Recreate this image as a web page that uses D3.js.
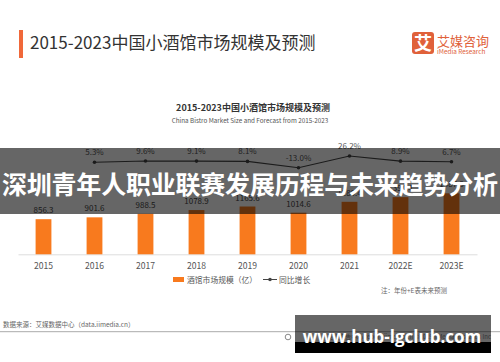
<!DOCTYPE html>
<html>
<head>
<meta charset="utf-8">
<script src="https://cdn.jsdelivr.net/npm/d3@7"></script>
<style>
    html, body { margin: 0; padding: 0; background: #fff; }
    svg { display: block; font-family: "Noto Sans CJK SC", "Noto Sans", sans-serif; }
</style>
</head>
<body>
<script>
"use strict";

const years = ["2015", "2016", "2017", "2018", "2019", "2020", "2021", "2022E", "2023E"];
const marketSize = [856.3, 901.6, 988.5, 1078.9, 1165.6, 1014.6, 1280.4, 1394.4, 1487.8];
const growthYears = ["2016", "2017", "2018", "2019", "2020", "2021", "2022E", "2023E"];
const growth = [5.3, 9.6, 9.1, 8.1, -13.0, 26.2, 8.9, 6.7];
const growthLabels = ["5.3%", "9.6%", "9.1%", "8.1%", "-13.0%", "26.2%", "8.9%", "6.7%"];

const W = 500, H = 362;
const orange = "#f87a1e";

const svg = d3.select("body").append("svg")
              .attr("width", W)
              .attr("height", H);

// page header
svg.append("rect")
   .attr("x", 19).attr("y", 30)
   .attr("width", 4).attr("height", 28)
   .attr("fill", "#f0683a");
svg.append("text")
   .attr("x", 30).attr("y", 49)
   .attr("font-size", 17)
   .attr("fill", "#333")
   .text("2015-2023中国小酒馆市场规模及预测");

// logo
const logo = svg.append("g");
logo.append("rect")
    .attr("x", 412).attr("y", 32)
    .attr("width", 22).attr("height", 22)
    .attr("rx", 3)
    .attr("fill", "#e0613a");
logo.append("text")
    .attr("x", 423).attr("y", 50)
    .attr("text-anchor", "middle")
    .attr("font-size", 18)
    .attr("font-weight", "bold")
    .attr("fill", "#fff")
    .text("艾");
logo.append("text")
    .attr("x", 437).attr("y", 46)
    .attr("font-size", 13)
    .attr("fill", "#e0613a")
    .text("艾媒咨询");
logo.append("text")
    .attr("x", 437).attr("y", 53.5)
    .attr("font-size", 6.4)
    .attr("fill", "#e0613a")
    .text("iMedia Research");

// chart titles
svg.append("text")
   .attr("x", 253).attr("y", 110.5)
   .attr("text-anchor", "middle")
   .attr("font-size", 9)
   .attr("font-weight", "bold")
   .attr("fill", "#333")
   .text("2015-2023中国小酒馆市场规模及预测");
svg.append("text")
   .attr("x", 250).attr("y", 123)
   .attr("text-anchor", "middle")
   .attr("font-size", 6.3)
   .attr("fill", "#555")
   .text("China Bistro Market Size and Forecast from 2015-2023");

// scales
const xScale = d3.scaleBand()
                 .domain(years)
                 .range([18, 477])
                 .paddingInner(0.69)
                 .paddingOuter(0.345);
const yScale = d3.scaleLinear()
                 .domain([0, 1500])
                 .range([254.3, 192.8]);
const gScale = d3.scaleLinear()
                 .domain([-13, 26.2])
                 .range([167.7, 156]);
const cx = d => xScale(d) + xScale.bandwidth() / 2;

// x axis
const xAxis = svg.append("g")
                 .attr("transform", "translate(0, 254.3)")
                 .call(d3.axisBottom(xScale).tickSize(0).tickSizeOuter(0).tickPadding(9));
xAxis.select(".domain").attr("stroke", "#ddd");
xAxis.selectAll("text")
     .attr("font-size", 8.6)
     .attr("fill", "#555")
     .attr("font-family", "\"Noto Sans CJK SC\", sans-serif");

// bars
const bars = svg.append("g").attr("class", "barGraph");
bars.selectAll("rect")
    .data(marketSize)
    .enter().append("rect")
    .attr("x", (d, i) => xScale(years[i]))
    .attr("y", d => yScale(d))
    .attr("width", xScale.bandwidth())
    .attr("height", d => yScale(0) - yScale(d))
    .attr("fill", orange);
bars.selectAll("text")
    .data(marketSize)
    .enter().append("text")
    .attr("x", (d, i) => cx(years[i]))
    .attr("y", d => yScale(d) - 6)
    .attr("text-anchor", "middle")
    .attr("font-size", 8)
    .attr("fill", "#444")
    .text(d => d.toFixed(1));

// growth line
const line = d3.line()
               .x((d, i) => cx(growthYears[i]))
               .y(d => gScale(d));
const lineG = svg.append("g");
lineG.append("path")
     .datum(growth)
     .attr("d", line)
     .attr("fill", "none")
     .attr("stroke", "#444")
     .attr("stroke-width", 1.1);
lineG.selectAll("circle")
     .data(growth)
     .enter().append("circle")
     .attr("cx", (d, i) => cx(growthYears[i]))
     .attr("cy", d => gScale(d))
     .attr("r", 1.8)
     .attr("fill", "#444");
lineG.selectAll("text")
     .data(growth)
     .enter().append("text")
     .attr("x", (d, i) => cx(growthYears[i]))
     .attr("y", d => gScale(d) - 7)
     .attr("text-anchor", "middle")
     .attr("font-size", 8)
     .attr("fill", "#555")
     .text((d, i) => growthLabels[i]);

// legend
const legend = svg.append("g").attr("font-size", 7.8).attr("fill", "#555");
legend.append("rect")
      .attr("x", 173).attr("y", 277)
      .attr("width", 11).attr("height", 5)
      .attr("fill", orange);
legend.append("text")
      .attr("x", 187).attr("y", 282.5)
      .text("酒馆市场规模（亿）");
legend.append("line")
      .attr("x1", 263).attr("x2", 277)
      .attr("y1", 279.5).attr("y2", 279.5)
      .attr("stroke", "#444")
      .attr("stroke-width", 1);
legend.append("circle")
      .attr("cx", 270).attr("cy", 279.5)
      .attr("r", 1.8)
      .attr("fill", "#444");
legend.append("text")
      .attr("x", 279).attr("y", 282.5)
      .text("同比增长");

svg.append("text")
   .attr("x", 381).attr("y", 293)
   .attr("font-size", 6.5)
   .attr("fill", "#666")
   .text("注：年份+E表未来预测");

// footer
svg.append("text")
   .attr("x", 3).attr("y", 327)
   .attr("font-size", 6.5)
   .attr("fill", "#666")
   .text("数据来源：艾媒数据中心（data.iimedia.cn）");
svg.append("line")
   .attr("x1", 0).attr("x2", W)
   .attr("y1", 331.7).attr("y2", 331.7)
   .attr("stroke", "#aaa")
   .attr("stroke-width", 1);
svg.append("circle")
   .attr("cx", 288).attr("cy", 337)
   .attr("r", 2.8)
   .attr("fill", "none")
   .attr("stroke", "#888");
svg.append("text")
   .attr("x", 491).attr("y", 339)
   .attr("text-anchor", "end")
   .attr("font-size", 6)
   .attr("fill", "#888")
   .text("艾媒报告中心 report.iimedia.cn ©2019 iiMedia Research Inc");

// overlay band with headline
svg.append("rect")
   .attr("x", 0).attr("y", 148)
   .attr("width", W).attr("height", 66)
   .attr("fill", "#000")
   .attr("fill-opacity", 0.6);
svg.append("text")
   .attr("x", 250).attr("y", 194)
   .attr("text-anchor", "middle")
   .attr("font-size", 25)
   .attr("font-weight", "bold")
   .attr("fill", "#fff")
   .attr("textLength", 496)
   .text("深圳青年人职业联赛发展历程与未来趋势分析");

// watermark box
svg.append("rect")
   .attr("x", 295).attr("y", 315)
   .attr("width", 196).attr("height", 27)
   .attr("fill", "#000")
   .attr("fill-opacity", 0.6);
svg.append("rect")
   .attr("x", 295).attr("y", 342)
   .attr("width", 196).attr("height", 11)
   .attr("fill", "#000");
svg.append("text")
   .attr("x", 392).attr("y", 343)
   .attr("text-anchor", "middle")
   .attr("font-size", 17)
   .attr("font-weight", "bold")
   .attr("fill", "#fff")
   .attr("font-family", "\"Open Sans\", \"Noto Sans\", sans-serif")
   .text("www.hub-lgclub.com");
</script>
</body>
</html>
